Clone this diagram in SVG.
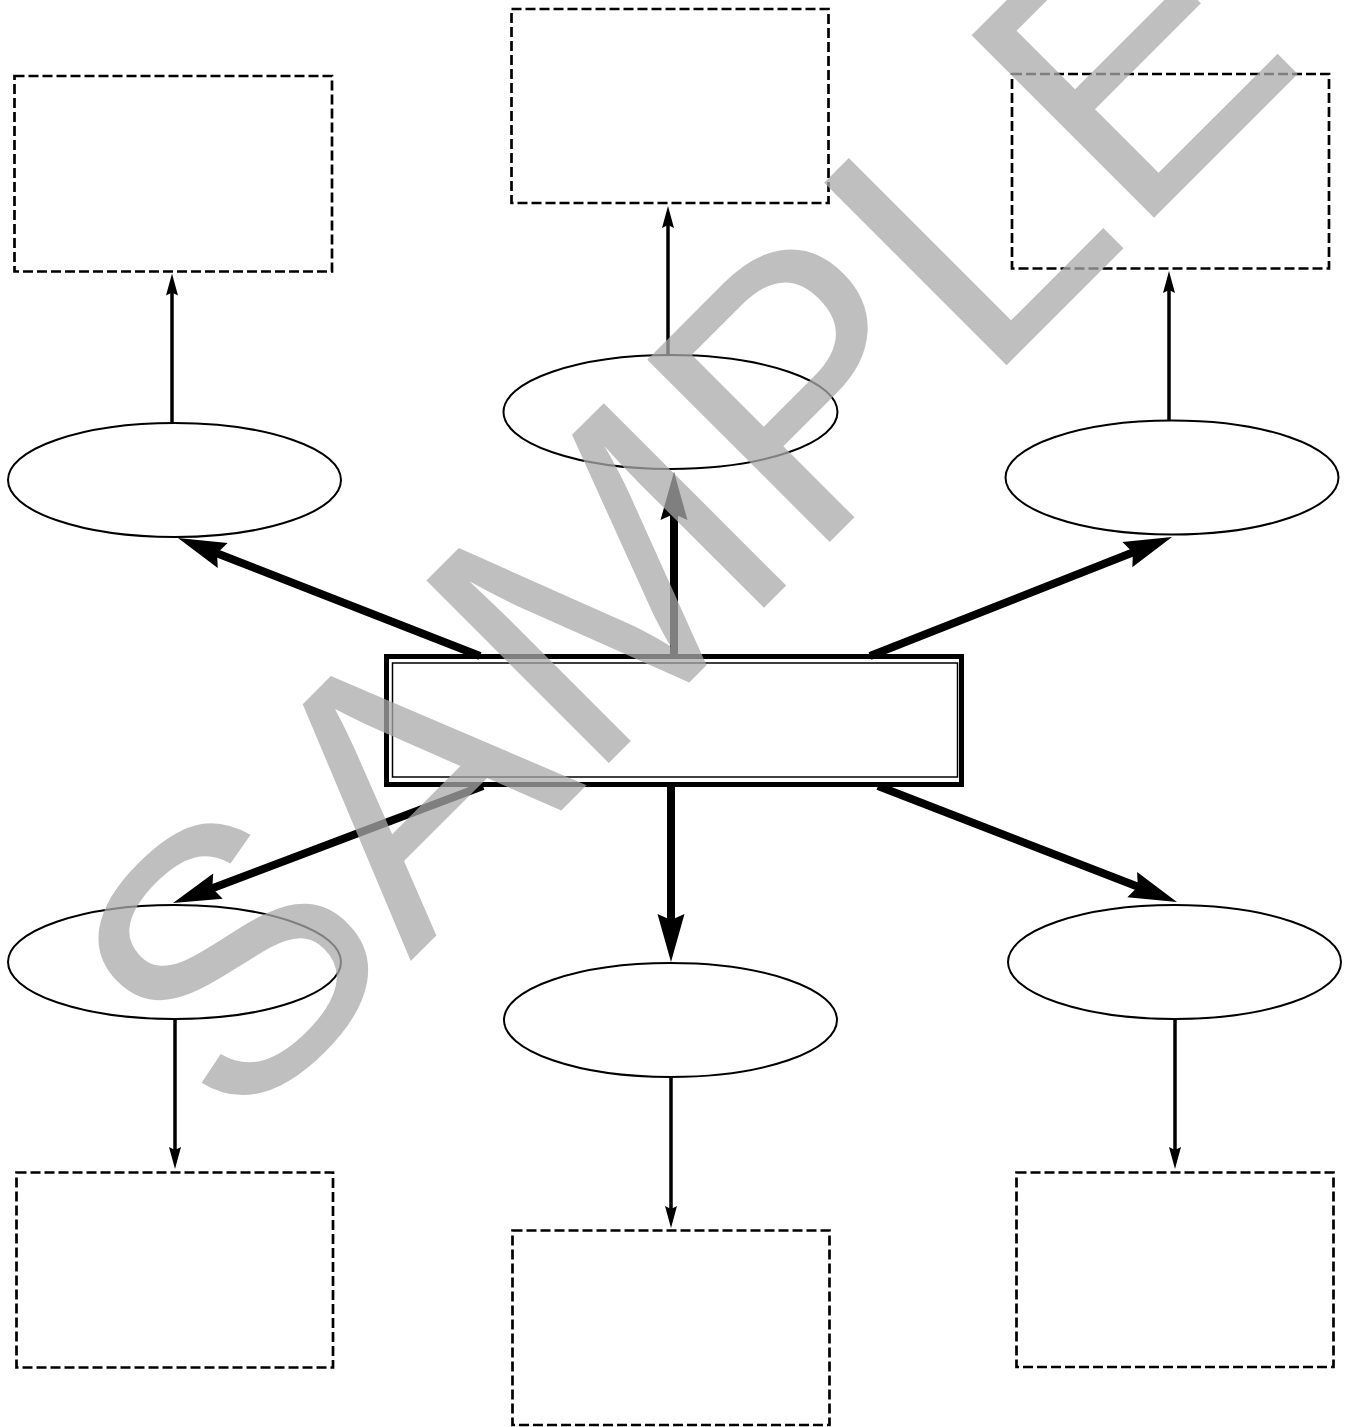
<svg xmlns="http://www.w3.org/2000/svg" width="1348" height="1427" viewBox="0 0 1348 1427">
<style>
.dbox{fill:#fff;stroke:#000;stroke-width:2.7;stroke-dasharray:10 4}
.ell{fill:#fff;stroke:#000;stroke-width:2}
.thin{stroke:#000;stroke-width:3.5;fill:none;marker-end:url(#small)}
.thick{stroke:#000;stroke-width:8;fill:none;marker-end:url(#big)}
.wm{font-family:"Liberation Sans",Arial,sans-serif;font-size:375px;fill:#aaaaaa;fill-opacity:0.75}
</style>
<defs>
<marker id="big" markerUnits="userSpaceOnUse" markerWidth="60" markerHeight="40" viewBox="-30 -20 60 40" refX="0" refY="0" orient="auto" overflow="visible">
<path d="M30,0 L-18,-13.5 L-12,0 L-18,13.5 Z" fill="#000"/>
</marker>
<marker id="small" markerUnits="userSpaceOnUse" markerWidth="30" markerHeight="20" viewBox="-15 -10 30 20" refX="0" refY="0" orient="auto" overflow="visible">
<path d="M12,0 L-10,-6 L-7,0 L-10,6 Z" fill="#000"/>
</marker>
</defs>
<rect width="1348" height="1427" fill="#fff"/>

<g id="box-top-left"><rect class="dbox" x="14.5" y="76" width="317.5" height="195.5"/></g>
<g id="box-top-center"><rect class="dbox" x="511.5" y="9" width="317" height="194"/></g>
<g id="box-top-right"><rect class="dbox" x="1012" y="74" width="317" height="194.5"/></g>
<g id="box-bottom-left"><rect class="dbox" x="16.5" y="1172.5" width="316.5" height="195"/></g>
<g id="box-bottom-center"><rect class="dbox" x="512.5" y="1230.5" width="317" height="194.5"/></g>
<g id="box-bottom-right"><rect class="dbox" x="1016.5" y="1172.5" width="317" height="194.5"/></g>

<g id="ell-top-left"><ellipse class="ell" cx="174.5" cy="480" rx="166.5" ry="57"/></g>
<g id="ell-top-center"><ellipse class="ell" cx="670.5" cy="412" rx="167" ry="57"/></g>
<g id="ell-top-right"><ellipse class="ell" cx="1172" cy="477.5" rx="166.5" ry="57"/></g>
<g id="ell-bottom-left"><ellipse class="ell" cx="174.5" cy="962" rx="166.5" ry="57"/></g>
<g id="ell-bottom-center"><ellipse class="ell" cx="670.5" cy="1020" rx="166.5" ry="57"/></g>
<g id="ell-bottom-right"><ellipse class="ell" cx="1174.5" cy="962" rx="166.5" ry="57"/></g>

<g id="center-box">
<rect x="386.5" y="656.5" width="575" height="128" fill="#fff" stroke="#000" stroke-width="5"/>
<rect x="392.5" y="663" width="565" height="114" fill="none" stroke="#000" stroke-width="1.5"/>
</g>

<g id="connectors">
<line class="thin" x1="172" y1="423" x2="172" y2="285.5"/>
<line class="thin" x1="668" y1="355" x2="668" y2="218"/>
<line class="thin" x1="1169" y1="420.5" x2="1169" y2="283"/>
<line class="thin" x1="175" y1="1019" x2="175" y2="1157"/>
<line class="thin" x1="671" y1="1077" x2="671" y2="1216"/>
<line class="thin" x1="1175" y1="1019" x2="1175" y2="1157"/>
<line class="thick" x1="674" y1="654" x2="674" y2="502"/>
<line class="thick" x1="480" y1="656" x2="205.9" y2="548.9"/>
<line class="thick" x1="870" y1="656" x2="1144.1" y2="548"/>
<line class="thick" x1="483" y1="786" x2="201.1" y2="892.4"/>
<line class="thick" x1="878" y1="786" x2="1149" y2="891.1"/>
<line class="thick" x1="671" y1="787" x2="671" y2="932"/>
</g>

<g id="watermark">
<text class="wm" transform="rotate(-45)" x="-640" y="970">SAMPLE</text>
</g>
</svg>
